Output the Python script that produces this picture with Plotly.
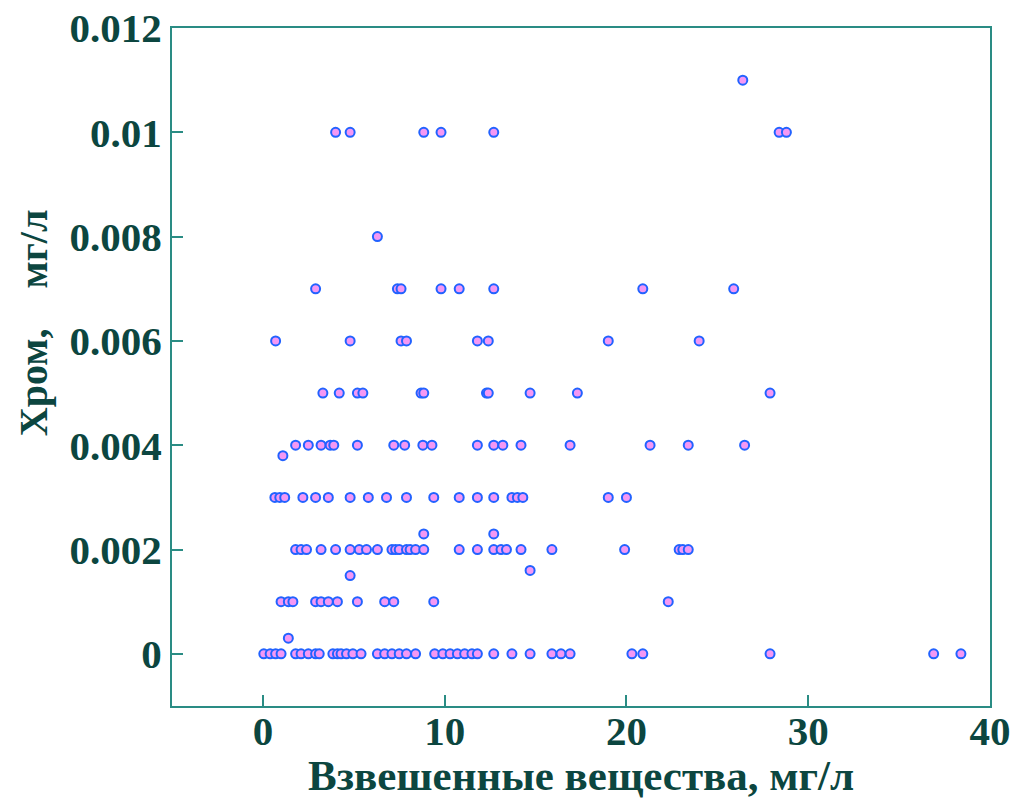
import plotly.graph_objects as go

# Chromium concentration levels (mg/l) and suspended-solids values (mg/l) at each level
chrom_levels = [0.011, 0.010, 0.008, 0.007, 0.006, 0.005, 0.004, 0.0038,
                0.003, 0.0023, 0.002, 0.0016, 0.0015, 0.001, 0.0003, 0.0]

ss_0110 = [26.4]
ss_0100 = [4.0, 4.8, 8.85, 9.8, 12.7, 28.4, 28.8]
ss_0080 = [6.3]
ss_0070 = [2.9, 7.4, 7.6, 9.8, 10.8, 12.7, 20.9, 25.9]
ss_0060 = [0.7, 4.8, 7.6, 7.9, 11.8, 12.4, 19.0, 24.0]
ss_0050 = [3.3, 4.2, 5.2, 5.5, 8.7, 8.85, 12.3, 12.4, 14.7, 17.3, 27.9]
ss_0040 = [1.8, 2.5, 3.2, 3.7, 3.9, 5.2, 7.2, 7.8, 8.8, 9.3, 11.8, 12.7,
           13.2, 14.2, 16.9, 21.3, 23.4, 26.5]
ss_0038 = [1.1]
ss_0030 = [0.66, 0.93, 1.2, 2.2, 2.9, 3.6, 4.8, 5.8, 6.8, 7.9, 9.4, 10.8,
           11.8, 12.7, 13.7, 14.0, 14.3, 19.0, 20.0]
ss_0023 = [8.85, 12.7]
ss_0020 = [1.8, 2.1, 2.4, 3.2, 4.0, 4.8, 5.3, 5.7, 6.3, 7.1, 7.3, 7.5, 7.9,
           8.1, 8.4, 8.85, 10.8, 11.8, 12.7, 13.1, 13.4, 14.2, 15.9, 19.9,
           22.9, 23.1, 23.4]
ss_0016 = [14.7]
ss_0015 = [4.8]
ss_0010 = [1.0, 1.4, 1.65, 2.9, 3.2, 3.6, 4.1, 5.2, 6.7, 7.2, 9.4, 22.3]
ss_0003 = [1.4]
ss_0000 = [0.05, 0.4, 0.7, 1.0, 1.8, 2.1, 2.5, 2.9, 3.1, 3.85, 4.1, 4.3, 4.6,
           4.95, 5.4, 6.3, 6.7, 7.1, 7.5, 7.9, 8.4, 9.45, 9.9, 10.3, 10.7,
           11.1, 11.5, 11.8, 12.7, 13.7, 14.7, 15.9, 16.4, 16.9, 20.3, 20.9,
           27.9, 36.9, 38.4]

ss_groups = [ss_0110, ss_0100, ss_0080, ss_0070, ss_0060, ss_0050, ss_0040,
             ss_0038, ss_0030, ss_0023, ss_0020, ss_0016, ss_0015, ss_0010,
             ss_0003, ss_0000]

x_tickvals = [0, 10, 20, 30, 40]
x_ticktext = ["0", "10", "20", "30", "40"]
y_tickvals = [0, 0.002, 0.004, 0.006, 0.008, 0.010, 0.012]
y_ticktext = ["0", "0.002", "0.004", "0.006", "0.008", "0.01", "0.012"]

x_title = "Взвешенные вещества, мг/л"
y_title = "Хром,\u00a0\u00a0\u00a0 мг/л"

xs, ys = [], []
for lvl, grp in zip(chrom_levels, ss_groups):
    for v in grp:
        xs.append(v)
        ys.append(lvl)

text_color = "#0c4640"
frame_color = "#2a8c84"
font_family = "Liberation Serif, Times New Roman, serif"

fig = go.Figure()
fig.add_trace(go.Scatter(
    x=xs, y=ys, mode="markers",
    marker=dict(symbol="circle", size=9, color="#f498f4",
                line=dict(color="#2262ff", width=2)),
    showlegend=False,
))

axis_common = dict(
    showline=True, mirror=True, linecolor=frame_color, linewidth=2,
    ticks="inside", ticklen=11, tickwidth=2, tickcolor=frame_color,
    showgrid=False, zeroline=False, automargin=False,
    ticklabeloverflow="allow",
    tickfont=dict(family=font_family, size=41, color=text_color, weight="bold"),
)

fig.update_layout(
    width=1020, height=802,
    margin=dict(l=172, r=30, t=28, b=96),
    paper_bgcolor="white", plot_bgcolor="white",
    xaxis=dict(range=[-5, 40], tickvals=x_tickvals, ticktext=x_ticktext,
               ticklabelstandoff=-12, **axis_common),
    yaxis=dict(range=[-0.001, 0.0120001], tickvals=y_tickvals, ticktext=y_ticktext,
               **axis_common),
    annotations=[
        dict(text=x_title, xref="paper", yref="paper", x=0.5, y=-0.103,
             xanchor="center", yanchor="middle", showarrow=False,
             font=dict(family=font_family, size=43, color=text_color, weight="bold")),
        dict(text=y_title, xref="paper", yref="paper", x=-0.170, y=0.566,
             xanchor="center", yanchor="middle", textangle=-90, showarrow=False,
             font=dict(family=font_family, size=40, color=text_color, weight="bold")),
    ],
)

fig.write_html("out.html",
               config={"displayModeBar": False},
               post_script="document.body.style.margin='0';document.body.style.overflow='hidden';")
